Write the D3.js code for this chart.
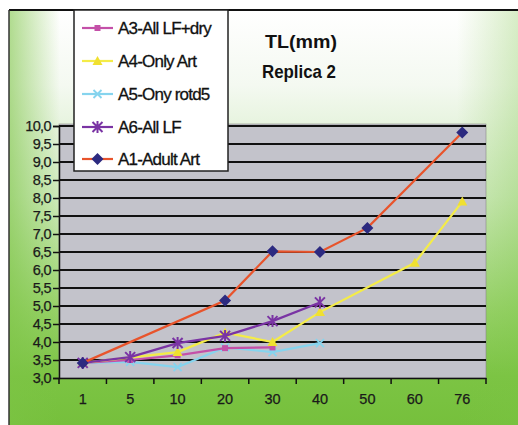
<!DOCTYPE html>
<html><head><meta charset="utf-8">
<script src="https://cdn.jsdelivr.net/npm/d3@7"></script>
<style>body{margin:0;background:#fff}svg{display:block}</style>
</head><body><svg id="c" width="518" height="425"></svg>
<script>
const categories = ["1","5","10","20","30","40","50","60","76"];
const yTicks = [3.0,3.5,4.0,4.5,5.0,5.5,6.0,6.5,7.0,7.5,8.0,8.5,9.0,9.5,10.0];
const seriesNames = ["A3-All LF+dry","A4-Only Art","A5-Ony rotd5","A6-All LF","A1-Adult Art"];
const a3 = [3.42,3.50,3.63,3.83,3.85,null,null,null,null];
const a4 = [3.42,null,3.72,4.26,4.00,4.83,null,6.20,7.90];
const a5 = [3.42,3.45,3.30,3.85,3.72,3.97,null,null,null];
const a6 = [3.42,3.58,3.97,4.17,4.58,5.10,null,null,null];
const a1 = [3.42,null,null,5.15,6.52,6.50,7.17,null,9.82];
const seriesValues = [a3,a4,a5,a6,a1];
const lineColors = ["#c450a8","#f4ec48","#86d4ee","#7a34a4","#e8542c"];
const markerColors = ["#c450a8","#f0e030","#86d4ee","#7a34a4","#2c2a80"];
const markerTypes = ["square","triangle","x","star","diamond"];
const FONT = "Liberation Sans, Arial, sans-serif";

const svg = d3.select("#c");
const defs = svg.append("defs");
const g1 = defs.append("linearGradient").attr("id","bg").attr("x1",0).attr("y1",0).attr("x2",0).attr("y2",1);
g1.append("stop").attr("offset","0%").attr("stop-color","#ffffff");
g1.append("stop").attr("offset","18%").attr("stop-color","#f4f9f1");
g1.append("stop").attr("offset","45%").attr("stop-color","#cfeabd");
g1.append("stop").attr("offset","72%").attr("stop-color","#98d26a");
g1.append("stop").attr("offset","88%").attr("stop-color","#7cc444");
g1.append("stop").attr("offset","100%").attr("stop-color","#76c03c");
const g2 = defs.append("linearGradient").attr("id","side").attr("x1",0).attr("y1",0).attr("x2",1).attr("y2",0);
g2.append("stop").attr("offset","0%").attr("stop-color","#7cc444").attr("stop-opacity",0.6);
g2.append("stop").attr("offset","10%").attr("stop-color","#7cc444").attr("stop-opacity",0.0);
g2.append("stop").attr("offset","88%").attr("stop-color","#7cc444").attr("stop-opacity",0.0);
g2.append("stop").attr("offset","100%").attr("stop-color","#7cc444").attr("stop-opacity",0.3);

svg.append("rect").attr("x",0).attr("y",0).attr("width",518).attr("height",425).attr("fill","#fff");
svg.append("rect").attr("x",9).attr("y",10).attr("width",509).attr("height",415).attr("fill","url(#bg)");
svg.append("rect").attr("x",9).attr("y",10).attr("width",509).attr("height",415).attr("fill","url(#side)");
svg.append("line").attr("x1",9).attr("x2",518).attr("y1",10).attr("y2",10).attr("stroke","#111").attr("stroke-width",2);
svg.append("line").attr("x1",9).attr("x2",9).attr("y1",10).attr("y2",425).attr("stroke","#333").attr("stroke-width",1.5);

const L=59, R=486, T=126, B=378;
const x = d3.scaleBand().domain(categories).range([L,R]);
const y = d3.scaleLinear().domain([3,10]).range([B,T]);

svg.append("rect").attr("x",L).attr("y",T-2).attr("width",R-L).attr("height",B-T+2).attr("fill","#c3c3cb").attr("stroke","#888").attr("stroke-width",0.6);

// gridlines
svg.append("g").selectAll("line").data(yTicks.filter(v=>v>3)).join("line")
  .attr("x1",L).attr("x2",R).attr("y1",d=>y(d)).attr("y2",d=>y(d))
  .attr("stroke","#111").attr("stroke-width",2.2);

// y axis
const ya = svg.append("g").attr("transform",`translate(${L},0)`)
  .call(d3.axisLeft(y).tickValues(yTicks).tickSize(6).tickFormat(d=>d3.format(".1f")(d).replace(".",",")));
ya.select(".domain").attr("stroke","#111").attr("stroke-width",1.5);
ya.selectAll(".tick line").attr("stroke","#111").attr("stroke-width",1.5);
ya.selectAll("text").attr("font-family",FONT).attr("font-size",14.5).attr("fill","#1a1a1a")
  .attr("stroke","#1a1a1a").attr("stroke-width",0.25).attr("x",-8).attr("letter-spacing",-0.6);

// x axis
const xa = svg.append("g").attr("transform",`translate(0,${B})`)
  .call(d3.axisBottom(x).tickSize(0).tickPadding(16));
xa.select(".domain").attr("stroke","#111").attr("stroke-width",1.5);
xa.selectAll("text").attr("font-family",FONT).attr("font-size",14.5).attr("fill","#1a1a1a")
  .attr("stroke","#1a1a1a").attr("stroke-width",0.25);
const bw = x.bandwidth();
svg.append("g").selectAll("line").data(d3.range(categories.length+1)).join("line")
  .attr("x1",i=>L+i*bw).attr("x2",i=>L+i*bw).attr("y1",B).attr("y2",B+6)
  .attr("stroke","#111").attr("stroke-width",1.5);

const cx = i => x(categories[i]) + bw/2;

function drawMarker(sel, type, color, px, py){
  if(type==="square") sel.append("rect").attr("x",px-3).attr("y",py-3).attr("width",6).attr("height",6).attr("fill",color);
  else if(type==="triangle") sel.append("path").attr("d",`M${px},${py-5}L${px+5},${py+4}L${px-5},${py+4}Z`).attr("fill",color);
  else if(type==="diamond") sel.append("path").attr("d",`M${px},${py-6}L${px+6},${py}L${px},${py+6}L${px-6},${py}Z`).attr("fill",color);
  else if(type==="x") sel.append("path").attr("d",`M${px-4},${py-4}L${px+4},${py+4}M${px-4},${py+4}L${px+4},${py-4}`).attr("stroke",color).attr("stroke-width",1.8);
  else if(type==="star") sel.append("path").attr("d",`M${px-5},${py-5}L${px+5},${py+5}M${px-5},${py+5}L${px+5},${py-5}M${px},${py-6}L${px},${py+6}`).attr("stroke",color).attr("stroke-width",2);
}

const order = [2,0,1,3,4];
order.forEach(si=>{
  const vals = seriesValues[si];
  const pts = vals.map((v,i)=>[i,v]).filter(d=>d[1]!==null);
  const line = d3.line().x(d=>cx(d[0])).y(d=>y(d[1]));
  svg.append("path").datum(pts).attr("d",line).attr("fill","none")
    .attr("stroke",lineColors[si]).attr("stroke-width",2.2);
  const gm = svg.append("g");
  pts.forEach(d=>drawMarker(gm, markerTypes[si], markerColors[si], cx(d[0]), y(d[1])));
});

// title
svg.append("text").attr("x",301).attr("y",48).attr("text-anchor","middle")
  .attr("font-family",FONT).attr("font-weight","bold").attr("font-size",19).attr("fill","#111")
  .attr("textLength",72).attr("lengthAdjust","spacingAndGlyphs").text("TL(mm)");
svg.append("text").attr("x",299).attr("y",78).attr("text-anchor","middle")
  .attr("font-family",FONT).attr("font-weight","bold").attr("font-size",19).attr("fill","#111")
  .attr("textLength",74).attr("lengthAdjust","spacingAndGlyphs").text("Replica 2");

// legend
const lg = svg.append("g");
lg.append("rect").attr("x",74).attr("y",10).attr("width",154).attr("height",161).attr("fill","#fff").attr("stroke","#222").attr("stroke-width",1.5);
const ly = [28,61,94,127,159];
const lw = [104,86,104,73,104];
seriesNames.forEach((n,i)=>{
  lg.append("line").attr("x1",82).attr("x2",113).attr("y1",ly[i]).attr("y2",ly[i]).attr("stroke",lineColors[i]).attr("stroke-width",2.2);
  drawMarker(lg, markerTypes[i], markerColors[i], 97.5, ly[i]);
  lg.append("text").attr("x",118).attr("y",ly[i]+6).attr("font-family",FONT)
    .attr("font-size",17).attr("fill","#111").attr("stroke","#111").attr("stroke-width",0.3)
    .attr("letter-spacing",-0.8).text(n);
});
</script></body></html>
